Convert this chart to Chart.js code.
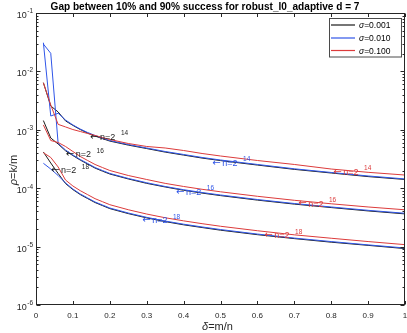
<!DOCTYPE html>
<html><head><meta charset="utf-8">
<script src="https://cdn.jsdelivr.net/npm/chart.js@4.4.1/dist/chart.umd.min.js"></script>
<style>html,body{margin:0;padding:0;background:#fff;overflow:hidden}#wrap{width:407px;height:333px}canvas{display:block}</style>
</head><body><div id="wrap"><canvas id="c" width="407" height="333" style="width:407px;height:333px"></canvas></div>
<script>
// ---- data (delta = m/n, rho = k/m) ----
const deltas = [0.02,0.04,0.06,0.08,0.10,0.12,0.14,0.16,0.18,0.20,0.25,0.30,0.35,0.40,0.45,0.50,0.60,0.70,0.80,0.90,1.00];

const sig001_n14 = [6.40e-3,2.56e-3,2.02e-3,1.42e-3,1.19e-3,1.01e-3,8.78e-4,7.81e-4,7.07e-4,6.41e-4,5.47e-4,4.77e-4,4.15e-4,3.69e-4,3.28e-4,2.97e-4,2.49e-4,2.10e-4,1.82e-4,1.58e-4,1.41e-4];
const sig010_n14 = [3.10e-2,1.72e-3,1.92e-3,1.47e-3,1.21e-3,1.03e-3,8.99e-4,7.99e-4,7.24e-4,6.56e-4,5.60e-4,4.88e-4,4.25e-4,3.78e-4,3.36e-4,3.04e-4,2.55e-4,2.15e-4,1.86e-4,1.62e-4,1.44e-4];
const sig100_n14 = [6.40e-3,2.66e-3,1.24e-3,1.12e-3,1.01e-3,9.35e-4,8.64e-4,7.99e-4,7.38e-4,6.82e-4,5.83e-4,5.18e-4,4.88e-4,4.42e-4,3.93e-4,3.56e-4,2.98e-4,2.55e-4,2.13e-4,1.87e-4,1.68e-4];

const sig001_n16 = [1.44e-3,7.24e-4,5.71e-4,4.37e-4,3.62e-4,3.03e-4,2.59e-4,2.21e-4,1.96e-4,1.75e-4,1.44e-4,1.21e-4,1.05e-4,9.21e-5,8.25e-5,7.47e-5,6.25e-5,5.34e-5,4.66e-5,4.08e-5,3.63e-5];
const sig010_n16 = [2.94e-2,2.04e-2,5.87e-4,4.51e-4,3.70e-4,3.10e-4,2.65e-4,2.26e-4,2.01e-4,1.79e-4,1.47e-4,1.24e-4,1.07e-4,9.43e-5,8.44e-5,7.65e-5,6.40e-5,5.47e-5,4.77e-5,4.18e-5,3.72e-5];
const sig100_n16 = [1.21e-3,6.56e-4,6.06e-4,5.18e-4,4.25e-4,3.49e-4,2.98e-4,2.55e-4,2.26e-4,2.01e-4,1.65e-4,1.41e-4,1.21e-4,1.07e-4,9.58e-5,8.68e-5,7.27e-5,6.21e-5,5.41e-5,4.77e-5,4.27e-5];

const sig001_n18 = [4.17e-4,2.70e-4,1.79e-4,1.20e-4,9.46e-5,7.78e-5,6.64e-5,5.68e-5,5.04e-5,4.47e-5,3.67e-5,3.10e-5,2.68e-5,2.36e-5,2.12e-5,1.91e-5,1.60e-5,1.37e-5,1.19e-5,1.05e-5,9.24e-6];
const sig010_n18 = [2.67e-4,2.13e-4,1.65e-4,1.23e-4,9.69e-5,7.96e-5,6.80e-5,5.81e-5,5.16e-5,4.58e-5,3.76e-5,3.17e-5,2.74e-5,2.42e-5,2.17e-5,1.96e-5,1.64e-5,1.40e-5,1.22e-5,1.07e-5,9.46e-6];
const sig100_n18 = [4.05e-4,3.36e-4,2.31e-4,1.38e-4,1.09e-4,9.07e-5,7.75e-5,6.62e-5,5.88e-5,5.22e-5,4.28e-5,3.61e-5,3.12e-5,2.76e-5,2.47e-5,2.23e-5,1.87e-5,1.59e-5,1.39e-5,1.22e-5,1.08e-5];

const sigmaLabels = ['\u03c3=0.001','\u03c3=0.010','\u03c3=0.100'];
const titleText = 'Gap between 10% and 90% success for robust_l0_adaptive d = 7';
const xTicks = [0,0.1,0.2,0.3,0.4,0.5,0.6,0.7,0.8,0.9,1];
const xTickLabels = ['0','0.1','0.2','0.3','0.4','0.5','0.6','0.7','0.8','0.9','1'];
const yTickExps = [-6,-5,-4,-3,-2,-1];
const xLabel = ['\u03b4','=m/n'];
const yLabel = ['\u03c1','=k/m'];

// curve annotations "<- n=2^k"
const annSigma = [0,0,0, 1,1,1, 2,2,2];
const annExp   = ['14','16','18','14','16','18','14','16','18'];
const annDelta = [0.148,0.082,0.042, 0.479,0.381,0.289, 0.807,0.712,0.620];
const annRho   = [7.62e-4,3.85e-4,2.05e-4, 2.73e-4,8.71e-5,2.85e-5, 1.92e-4,5.51e-5,1.58e-5];

// ---- styles ----
const COLORS = ['#1c1c1c','#2f55e8','#dc3b3b'];
const AXC = '#262626';
const FONT = '"Liberation Sans", Arial, "DejaVu Sans", sans-serif';

const curves = [
  {s:2, v:sig100_n14},{s:2, v:sig100_n16},{s:2, v:sig100_n18},
  {s:1, v:sig010_n14},{s:1, v:sig010_n16},{s:1, v:sig010_n18},
  {s:0, v:sig001_n14},{s:0, v:sig001_n16},{s:0, v:sig001_n18}
];
const datasets = curves.map(c => ({
  data: deltas.map((d,i)=>({x:d, y:c.v[i]})),
  borderColor: COLORS[c.s], borderWidth: 1, pointRadius: 0, fill: false, tension: 0,
  order: c.s === 2 ? 0 : (c.s === 1 ? 1 : 2)
}));

function txt(ctx, s, x, y, font, color, align, base){
  ctx.font = font; ctx.fillStyle = color; ctx.textAlign = align || 'left'; ctx.textBaseline = base || 'alphabetic';
  ctx.fillText(s, x, y);
}

const decor = {
  id: 'decor',
  afterDraw(chart){
    const ctx = chart.ctx, a = chart.chartArea, xs = chart.scales.x, ys = chart.scales.y;
    ctx.save();
    const L = Math.round(a.left)+0.5, R = Math.round(a.right)-0.5, T = Math.round(a.top)+0.5, B = Math.round(a.bottom)-0.5;
    ctx.strokeStyle = AXC; ctx.lineWidth = 1;
    ctx.strokeRect(L, T, R-L, B-T);
    // x ticks
    ctx.beginPath();
    xTicks.forEach((v,i)=>{
      const p = Math.round(xs.getPixelForValue(v))+0.5;
      ctx.moveTo(p,B); ctx.lineTo(p,B-3.5);
      ctx.moveTo(p,T); ctx.lineTo(p,T+3.5);
    });
    // y ticks (major + minor)
    yTickExps.forEach(e=>{
      for(let m=1;m<=9;m++){
        if(e===-1 && m>1) break;
        const v = Number((m*Math.pow(10,e)).toPrecision(3));
        const p = Math.round(ys.getPixelForValue(v))+0.5;
        const len = m===1 ? 4 : 2;
        ctx.moveTo(L,p); ctx.lineTo(L+len,p);
        ctx.moveTo(R,p); ctx.lineTo(R-len,p);
      }
    });
    ctx.stroke();
    // x tick labels
    xTicks.forEach((v,i)=>{
      txt(ctx, xTickLabels[i], xs.getPixelForValue(v), 318, '8px '+FONT, AXC, 'center');
    });
    // y tick labels 10^e
    yTickExps.forEach(e=>{
      const p = ys.getPixelForValue(Math.pow(10,e));
      txt(ctx, '10', 26.8, p+5, '9px '+FONT, AXC, 'right');
      txt(ctx, String(e), 27.3, p+0.3, '6.5px '+FONT, AXC, 'left');
    });
    // x label
    ctx.font = 'italic 11px '+FONT; const w1 = ctx.measureText(xLabel[0]).width;
    ctx.font = '11px '+FONT; const w2 = ctx.measureText(xLabel[1]).width;
    let sx = 217.5 - (w1+w2)/2;
    txt(ctx, xLabel[0], sx, 329.5, 'italic 11px '+FONT, AXC);
    txt(ctx, xLabel[1], sx+w1, 329.5, '11px '+FONT, AXC);
    // y label
    ctx.save();
    ctx.translate(17, 170); ctx.rotate(-Math.PI/2);
    ctx.font = 'italic 11px '+FONT; const v1 = ctx.measureText(yLabel[0]).width;
    ctx.font = '11px '+FONT; const v2 = ctx.measureText(yLabel[1]).width;
    sx = -(v1+v2)/2;
    txt(ctx, yLabel[0], sx, 0, 'italic 11px '+FONT, AXC);
    txt(ctx, yLabel[1], sx+v1, 0, '11px '+FONT, AXC);
    ctx.restore();
    // title
    ctx.font = 'bold 10px '+FONT;
    const tw = ctx.measureText(titleText).width;
    const fs = (10*309/tw).toFixed(2);
    txt(ctx, titleText, 205, 10, 'bold '+fs+'px '+FONT, '#000', 'center');
    // annotations
    annDelta.forEach((d,i)=>{
      const px = xs.getPixelForValue(d), py = ys.getPixelForValue(annRho[i]);
      const col = COLORS[annSigma[i]];
      txt(ctx, '\u2190', px-0.5, py+0.5, '10px "DejaVu Sans", sans-serif', col, 'left', 'middle');
      ctx.font = '9px '+FONT; const nw = ctx.measureText('n=2').width;
      txt(ctx, 'n=2', px+9.5, py+3.2, '9px '+FONT, col);
      txt(ctx, annExp[i], px+9.5+nw+5.5, py-1.3, '6.5px '+FONT, col);
    });
    // legend
    const lx0 = 329.5, ly0 = 18.5, lw = 72, lh = 38.5;
    ctx.fillStyle = '#fff'; ctx.fillRect(lx0, ly0, lw, lh);
    ctx.strokeStyle = '#4a4a4a'; ctx.lineWidth = 1; ctx.strokeRect(lx0, ly0, lw, lh);
    const rows = [25, 38, 50.5];
    rows.forEach((ry,i)=>{
      ctx.strokeStyle = COLORS[i]; ctx.lineWidth = 1.2;
      ctx.beginPath(); ctx.moveTo(331, ry); ctx.lineTo(355, ry); ctx.stroke();
      const s = sigmaLabels[i];
      ctx.font = 'italic 8.5px '+FONT; const gw = ctx.measureText(s[0]).width;
      txt(ctx, s[0], 359, ry+3, 'italic 8.5px '+FONT, '#000');
      txt(ctx, s.slice(1), 359+gw, ry+3, '8.5px '+FONT, '#000');
    });
    ctx.restore();
  }
};

new Chart(document.getElementById('c'), {
  type: 'line',
  data: { datasets },
  options: {
    responsive: false, animation: false, devicePixelRatio: 1,
    layout: { padding: { left: 36, right: 2, top: 13, bottom: 28 } },
    scales: {
      x: { type: 'linear', min: 0, max: 1, display: false },
      y: { type: 'logarithmic', min: 1e-6, max: 1e-1, display: false }
    },
    plugins: { legend: { display: false }, tooltip: { enabled: false }, title: { display: false } },
    elements: { line: { capBezierPoints: false } }
  },
  plugins: [decor]
});
</script>
</body></html>
